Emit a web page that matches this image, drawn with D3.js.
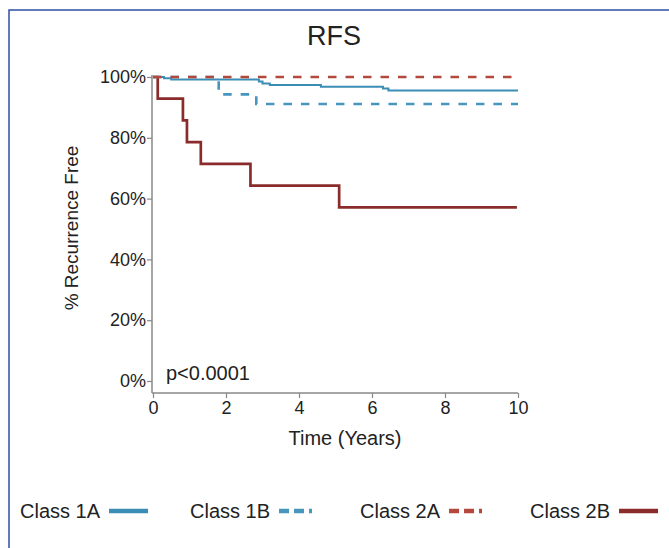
<!DOCTYPE html>
<html>
<head>
<meta charset="utf-8">
<script src="https://cdn.jsdelivr.net/npm/d3@7"></script>
<style>
  body { margin: 0; background: #fff; }
  text { font-family: "Liberation Sans", Arial, sans-serif; fill: #222; }
</style>
</head>
<body>
<script>
const W = 669, H = 548;

// Kaplan-Meier steps: [time in years, % recurrence free]
const class1A = [[0, 100], [0.3, 99.6], [0.5, 99.2], [2.9, 98.5], [3.0, 97.9], [3.2, 97.4], [4.6, 96.8], [6.3, 96.2], [6.45, 95.6], [10, 95.6]];
const class1B = [[0, 100], [1.8, 94.3], [2.83, 91.1], [10, 91.1]];
const class2A = [[0, 100], [10, 100]];
const class2B = [[0, 100], [0.13, 92.9], [0.82, 85.7], [0.93, 78.6], [1.31, 71.4], [2.67, 64.3], [5.1, 57.1], [9.97, 57.1]];

const seriesNames = ["Class 1A", "Class 1B", "Class 2A", "Class 2B"];
const seriesData = [class1A, class1B, class2A, class2B];
const colors = ["#3b8db5", "#4796bd", "#b4483c", "#8b2c2c"];
const dashes = [null, "8.5,9", "8.5,9", null];
const widths = [2, 2.6, 2.6, 2.7];
const legendDash = [null, "10,5,10,5,3", "10,5,10,5,3", null];

const xTicks = [0, 2, 4, 6, 8, 10];
const yTicks = [0, 20, 40, 60, 80, 100];

const svg = d3.select("body").append("svg")
    .attr("width", W)
    .attr("height", H);

// frame (left + top)
svg.append("path")
    .attr("d", "M9,548V10H669")
    .attr("fill", "none")
    .attr("stroke", "#2f4ea6")
    .attr("stroke-width", 1.5);

const x = d3.scaleLinear().domain([0, 10]).range([153, 518]);
const y = d3.scaleLinear().domain([0, 100]).range([381, 77]);
const axisY = 393;

// axes
const yAxis = svg.append("g")
    .attr("transform", `translate(${x(0) - 1},0)`)
    .call(d3.axisLeft(y).tickValues(yTicks).tickFormat(d => d + "%").tickSize(5).tickPadding(1));
yAxis.select(".domain").remove();

const xAxis = svg.append("g")
    .attr("transform", `translate(0,${axisY})`)
    .call(d3.axisBottom(x).tickValues(xTicks).tickSize(5).tickPadding(3));
xAxis.select(".domain").remove();

svg.selectAll(".tick line").attr("stroke", "#888").attr("stroke-width", 1.2);
svg.selectAll(".tick text").style("font-size", "18px").attr("fill", "#222");

svg.append("line")
    .attr("x1", x(0) - 1).attr("x2", x(0) - 1)
    .attr("y1", y(100) - 2).attr("y2", axisY)
    .attr("stroke", "#888").attr("stroke-width", 1.5);
svg.append("line")
    .attr("x1", x(0) - 1).attr("x2", x(10))
    .attr("y1", axisY).attr("y2", axisY)
    .attr("stroke", "#888").attr("stroke-width", 1.5);

// curves
const line = d3.line()
    .x(d => x(d[0]))
    .y(d => y(d[1]))
    .curve(d3.curveStepAfter);

const drawOrder = [3, 0, 1, 2];
drawOrder.forEach(i => {
    svg.append("path")
        .datum(seriesData[i])
        .attr("d", line)
        .attr("fill", "none")
        .attr("stroke", colors[i])
        .attr("stroke-width", widths[i])
        .attr("stroke-dasharray", dashes[i]);
});

// texts
svg.append("text")
    .attr("x", 334).attr("y", 45)
    .attr("text-anchor", "middle")
    .style("font-size", "27px")
    .text("RFS");

svg.append("text")
    .attr("transform", "translate(78,228) rotate(-90)")
    .attr("text-anchor", "middle")
    .style("font-size", "19px")
    .text("% Recurrence Free");

svg.append("text")
    .attr("x", 345).attr("y", 445)
    .attr("text-anchor", "middle")
    .style("font-size", "20px")
    .text("Time (Years)");

svg.append("text")
    .attr("x", 166).attr("y", 380)
    .style("font-size", "20px")
    .text("p<0.0001");

// legend
const legendX = d3.scaleLinear().domain([0, 3]).range([20, 530]);
seriesNames.forEach((name, i) => {
    const g = svg.append("g").attr("transform", `translate(${legendX(i)},518)`);
    const t = g.append("text")
        .style("font-size", "20px")
        .text(name);
    const tw = t.node().getComputedTextLength();
    g.append("line")
        .attr("x1", tw + 9).attr("x2", tw + 48)
        .attr("y1", -7).attr("y2", -7)
        .attr("stroke", colors[i])
        .attr("stroke-width", 4.5)
        .attr("stroke-dasharray", legendDash[i]);
});
</script>
</body>
</html>
